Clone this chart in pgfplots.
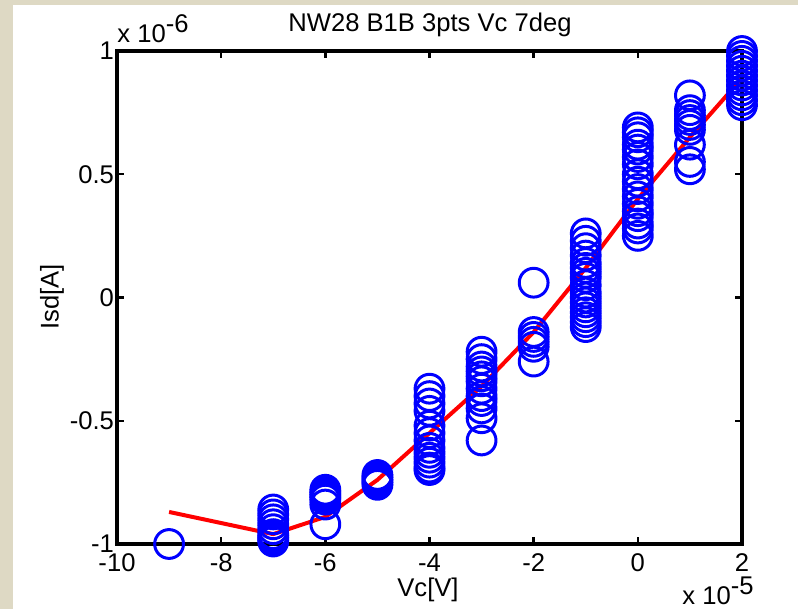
\documentclass[border=0pt]{standalone}
\usepackage{pgfplots}
\pgfplotsset{compat=1.18}
\usepackage{fontspec}
\setmainfont{Liberation Sans}
\definecolor{frame}{RGB}{222,217,196}
\definecolor{mblue}{RGB}{0,0,255}
\definecolor{mred}{RGB}{255,0,0}
\begin{document}
\begin{tikzpicture}
\useasboundingbox (0,0) rectangle (399pt,304.5pt);
\fill[white] (0,0) rectangle (399pt,304.5pt);
\fill[frame] (0,0) rectangle (6.5pt,304.5pt);
\fill[frame] (0,302pt) rectangle (399pt,304.5pt);
\begin{axis}[
  at={(58.5pt,32.5pt)}, anchor=south west,
  scale only axis, width=312.5pt, height=246.5pt,
  xmin=-10, xmax=2, ymin=-1, ymax=1,
  xtick={-10,-8,-6,-4,-2,0,2}, ytick={-1,-0.5,0,0.5,1},
  xticklabels={-10,-8,-6,-4,-2,0,2},
  yticklabels={-1,-0.5,0,0.5,1},
  scaled ticks=false,
  tick align=inside, major tick length=3.5pt,
  tick style={line width=1.2pt, black},
  axis line style={line width=2pt, black},
  clip=false, axis on top,
  ticklabel style={font=\fontsize{12.8}{15}\selectfont},
  xticklabel style={yshift=-1.3pt},
  yticklabel style={xshift=2pt},
]
\addplot[only marks, mark=o, mark size=7.2pt, mark options={line width=1.5pt, draw=mblue}] coordinates {
(-9,-1.00)
(-7,-0.86) (-7,-0.88) (-7,-0.90) (-7,-0.92) (-7,-0.94) (-7,-0.96) (-7,-0.97) (-7,-0.98) (-7,-0.99)
(-6,-0.78) (-6,-0.79) (-6,-0.80) (-6,-0.81) (-6,-0.82) (-6,-0.84) (-6,-0.92)
(-5,-0.72) (-5,-0.73) (-5,-0.74) (-5,-0.75) (-5,-0.76)
(-4,-0.37) (-4,-0.40) (-4,-0.43) (-4,-0.46) (-4,-0.52) (-4,-0.55) (-4,-0.58) (-4,-0.61) (-4,-0.63) (-4,-0.65) (-4,-0.67) (-4,-0.69) (-4,-0.70)
(-3,-0.22) (-3,-0.25) (-3,-0.28) (-3,-0.30) (-3,-0.32) (-3,-0.34) (-3,-0.37) (-3,-0.40) (-3,-0.42) (-3,-0.45) (-3,-0.49) (-3,-0.58)
(-2,0.06) (-2,-0.14) (-2,-0.16) (-2,-0.18) (-2,-0.20) (-2,-0.26)
(-1,0.26) (-1,0.23) (-1,0.20) (-1,0.17) (-1,0.14) (-1,0.12) (-1,0.10) (-1,0.08) (-1,0.05) (-1,0.02) (-1,0.00) (-1,-0.02) (-1,-0.04) (-1,-0.06) (-1,-0.08) (-1,-0.10) (-1,-0.12)
(0,0.69) (0,0.67) (0,0.65) (0,0.62) (0,0.60) (0,0.57) (0,0.54) (0,0.50) (0,0.47) (0,0.44) (0,0.41) (0,0.38) (0,0.35) (0,0.33) (0,0.30) (0,0.28) (0,0.25)
(1,0.82) (1,0.76) (1,0.74) (1,0.72) (1,0.70) (1,0.68) (1,0.62) (1,0.55) (1,0.52)
(2,1.00) (2,0.98) (2,0.96) (2,0.94) (2,0.92) (2,0.90) (2,0.88) (2,0.86) (2,0.84) (2,0.82) (2,0.80) (2,0.78)
};
\addplot[mred, line width=2pt, no marks] coordinates {
(-9,-0.87) (-7,-0.96) (-6,-0.89) (-5,-0.74) (-4,-0.55) (-3,-0.36) (-2,-0.14) (-1,0.12) (0,0.40) (1,0.65) (2,0.89)
};
\end{axis}
\node[anchor=base, font=\fontsize{12.8}{15}\selectfont] at (215pt,288.5pt) {NW28 B1B 3pts Vc 7deg};
\node[anchor=base west, inner sep=0pt, font=\fontsize{12.8}{15}\selectfont] at (58.5pt,283pt) {x 10\raisebox{5pt}{-6}};
\node[anchor=base west, inner sep=0pt, font=\fontsize{12.8}{15}\selectfont] at (341pt,2pt) {x 10\raisebox{5pt}{-5}};
\node[anchor=base, inner sep=0pt, font=\fontsize{12.8}{15}\selectfont] at (214pt,6pt) {Vc[V]};
\node[rotate=90, inner sep=0pt, font=\fontsize{12.8}{15}\selectfont] at (26pt,156pt) {Isd[A]};
\end{tikzpicture}
\end{document}
